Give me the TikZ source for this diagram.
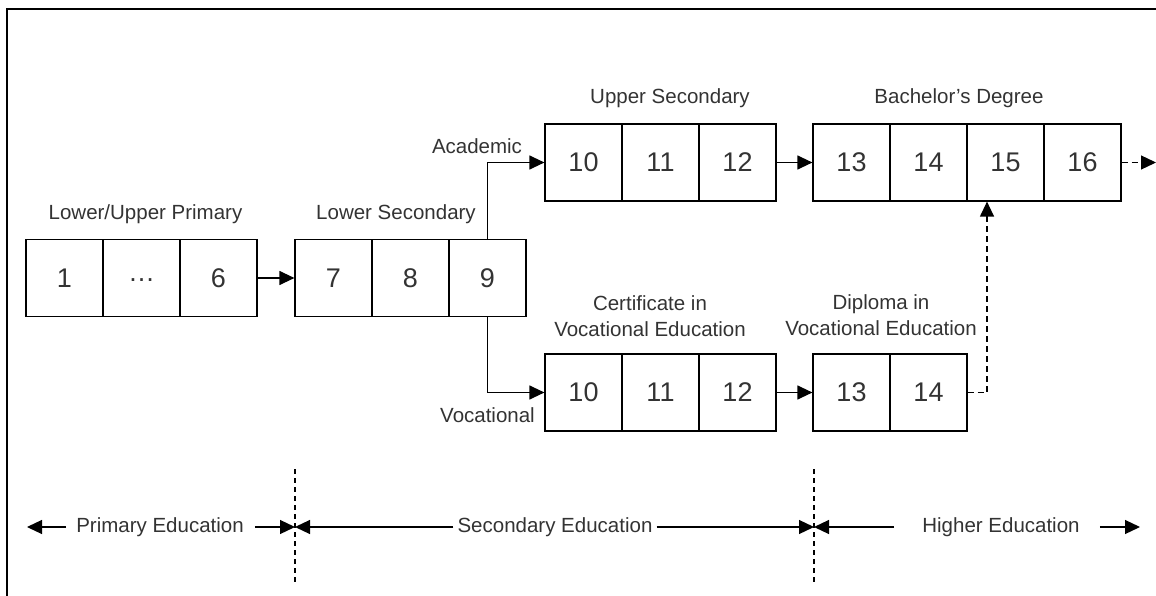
\documentclass[tikz,border=0pt]{standalone}
\usepackage{fontspec}
\setmainfont{Liberation Sans}
\usetikzlibrary{arrows.meta}
\begin{document}
\begin{tikzpicture}[x=1pt,y=-1pt,
  cell/.style={draw,line width=1.2pt,minimum width=77pt,minimum height=77pt,inner sep=0pt,font=\fontsize{27}{30}\selectfont,text=black!80},
  lbl/.style={inner sep=0pt,font=\fontsize{20.5}{26}\selectfont,text=black!80,align=center},
  conn/.style={line width=1.2pt,-{Triangle[length=15pt,width=14pt]}},
  dconn/.style={conn,dash pattern=on 6pt off 4pt},
  divider/.style={line width=1.2pt,dash pattern=on 5pt off 4pt}]
\useasboundingbox (0,0) rectangle (1156,596);
\draw[line width=2pt] (7,596) -- (7,9) -- (1156,9);

% primary
\node[cell] (p1) at (64.5,278) {1};
\node[cell] (p2) at (141.5,278) {\raisebox{-6pt}{…}};
\node[cell] (p3) at (218.5,278) {6};
% lower secondary
\node[cell] (s1) at (333.5,278) {7};
\node[cell] (s2) at (410.5,278) {8};
\node[cell] (s3) at (487.5,278) {9};
% upper secondary
\node[cell] (u1) at (583.5,162.5) {10};
\node[cell] (u2) at (660.5,162.5) {11};
\node[cell] (u3) at (737.5,162.5) {12};
% bachelor
\node[cell] (b1) at (851.5,162.5) {13};
\node[cell] (b2) at (928.5,162.5) {14};
\node[cell] (b3) at (1005.5,162.5) {15};
\node[cell] (b4) at (1082.5,162.5) {16};
% vocational certificate
\node[cell] (v1) at (583.5,392.5) {10};
\node[cell] (v2) at (660.5,392.5) {11};
\node[cell] (v3) at (737.5,392.5) {12};
% diploma
\node[cell] (d1) at (851.5,392.5) {13};
\node[cell] (d2) at (928.5,392.5) {14};

% labels
\node[lbl] (lp) at (145.5,214) {Lower/Upper Primary};
\node[lbl] (ls) at (396,214) {Lower Secondary};
\node[lbl] (la) at (477,146) {Academic};
\node[lbl] (lu) at (670,98) {Upper Secondary};
\node[lbl] (lb) at (959,98) {Bachelor’s Degree};
\node[lbl] (lc) at (650,316) {Certificate in\\Vocational Education};
\node[lbl] (ld) at (881,315) {Diploma in\\Vocational Education};
\node[lbl] (lv) at (487.5,415) {Vocational};

% connectors
\draw[conn] (p3.east) -- (s1.west);
\draw[conn] (s3.north) |- (u1.west);
\draw[conn] (s3.south) |- (v1.west);
\draw[conn] (u3.east) -- (b1.west);
\draw[conn] (v3.east) -- (d1.west);
\draw[dconn] (d2.east) -| ([xshift=-18.5pt]b3.south);
\coordinate (bout) at (1156,162.5);
\draw[dconn] (b4.east) -- (bout);

% bottom scale
\coordinate (m1) at (295,527);
\coordinate (m2) at (814,527);
\coordinate (m1t) at (295,469);
\coordinate (m1b) at (295,585);
\coordinate (m2t) at (814,469);
\coordinate (m2b) at (814,585);
\coordinate (l0) at (27,527);
\coordinate (r0) at (1140,527);
\draw[divider] (m1t) -- (m1b);
\draw[divider] (m2t) -- (m2b);

\node[lbl] (pe) at (160,527) {Primary Education};
\node[lbl] (se) at (555,527) {Secondary Education};
\node[lbl] (he) at (1001,527) {Higher Education};

\draw[conn] ([xshift=-10pt]pe.west) -- (l0);
\draw[conn] ([xshift=11pt]pe.east) -- (m1);
\draw[conn] ([xshift=-4pt]se.west) -- (m1);
\draw[conn] ([xshift=4pt]se.east) -- (m2);
\draw[conn] ([xshift=-28pt]he.west) -- (m2);
\draw[conn] ([xshift=20pt]he.east) -- (r0);
\end{tikzpicture}
\end{document}
